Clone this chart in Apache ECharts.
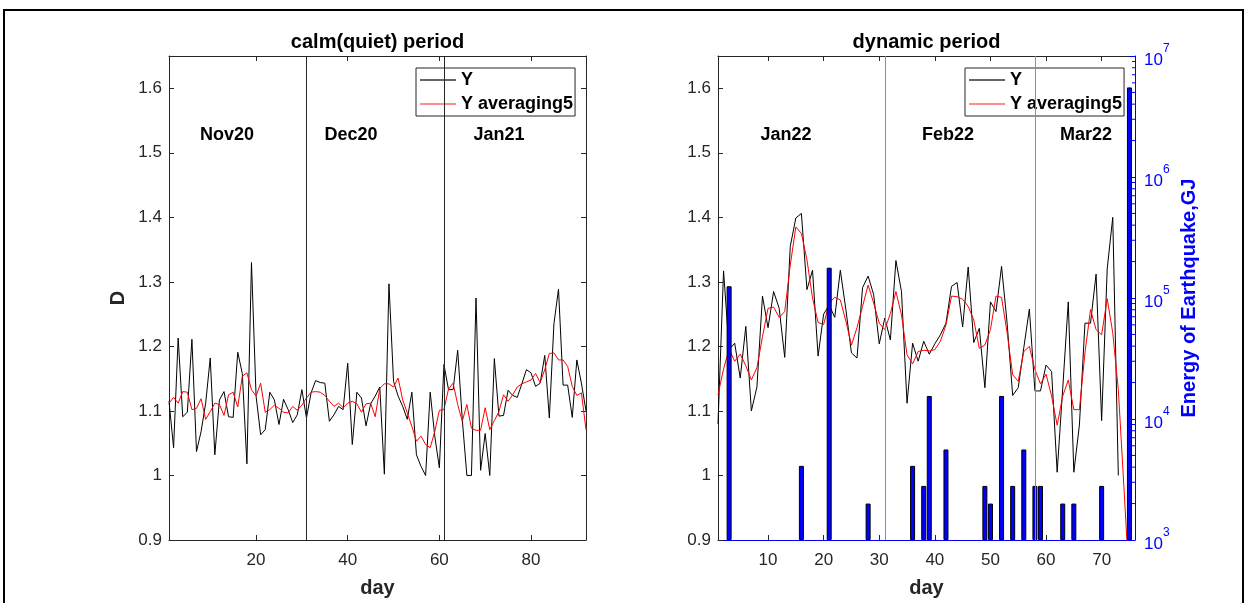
<!DOCTYPE html>
<html><head><meta charset="utf-8">
<script src="https://cdn.jsdelivr.net/npm/echarts@6/dist/echarts.min.js"></script>
<style>html,body{margin:0;padding:0;background:#fff;}#c{width:1245px;height:603px;}</style>
</head><body><div id="c"></div>
<script>
// ---- data ----
const calmY = [1.115,1.043,1.213,1.091,1.098,1.211,1.037,1.068,1.112,1.182,
  1.032,1.117,1.130,1.091,1.090,1.191,1.158,1.018,1.330,1.123,
  1.063,1.071,1.129,1.117,1.079,1.118,1.102,1.082,1.094,1.133,
  1.089,1.128,1.147,1.144,1.143,1.084,1.094,1.107,1.102,1.174,
  1.048,1.129,1.120,1.077,1.111,1.123,1.137,1.002,1.297,1.146,
  1.123,1.107,1.087,1.129,1.032,1.014,1.000,1.129,1.061,1.012,
  1.172,1.133,1.133,1.194,1.087,1.000,1.000,1.275,1.008,1.065,
  1.000,1.181,1.092,1.093,1.132,1.124,1.121,1.142,1.164,1.159,
  1.138,1.143,1.186,1.089,1.235,1.289,1.140,1.140,1.090,1.179,
  1.143,1.100];
const calmAvg = [1.112,1.121,1.112,1.130,1.129,1.102,1.104,1.119,1.087,1.099,
  1.112,1.110,1.093,1.125,1.129,1.106,1.154,1.159,1.133,1.123,
  1.143,1.098,1.102,1.109,1.104,1.098,1.097,1.107,1.101,1.109,
  1.120,1.129,1.130,1.129,1.124,1.115,1.107,1.112,1.105,1.112,
  1.115,1.111,1.098,1.111,1.112,1.091,1.135,1.142,1.142,1.137,
  1.151,1.117,1.097,1.076,1.053,1.061,1.048,1.043,1.068,1.101,
  1.102,1.134,1.143,1.110,1.084,1.110,1.073,1.070,1.070,1.105,
  1.071,1.085,1.099,1.125,1.115,1.125,1.137,1.142,1.145,1.148,
  1.158,1.144,1.164,1.189,1.190,1.179,1.179,1.169,1.138,1.124,
  1.128,1.071];
const dynY = [1.080,1.317,1.195,1.205,1.151,1.231,1.100,1.137,1.278,1.229,
  1.285,1.259,1.183,1.355,1.399,1.406,1.288,1.318,1.185,1.250,
  1.264,1.245,1.318,1.257,1.190,1.182,1.291,1.309,1.280,1.204,
  1.244,1.210,1.333,1.285,1.112,1.205,1.177,1.208,1.188,1.204,
  1.218,1.236,1.293,1.299,1.230,1.323,1.206,1.228,1.136,1.269,
  1.254,1.324,1.236,1.124,1.136,1.198,1.258,1.131,1.131,1.171,
  1.161,1.005,1.135,1.269,1.005,1.078,1.236,1.236,1.312,1.085,
  1.320,1.400,1.000];
const dynAvg = [1.125,1.165,1.196,1.177,1.188,1.170,1.148,1.167,1.215,1.259,
  1.261,1.245,1.254,1.326,1.385,1.375,1.334,1.275,1.237,1.234,
  1.267,1.276,1.272,1.239,1.202,1.229,1.262,1.295,1.267,1.236,
  1.226,1.251,1.285,1.249,1.187,1.173,1.192,1.194,1.193,1.195,
  1.208,1.233,1.278,1.277,1.273,1.262,1.241,1.197,1.202,1.226,
  1.278,1.276,1.221,1.156,1.146,1.192,1.200,1.164,1.142,1.157,
  1.123,1.078,1.123,1.148,1.102,1.102,1.190,1.257,1.226,1.218,
  1.274,1.221,1.133,0.983,0.830];
const quakeDays   = [3, 16, 21, 28, 36, 38, 39, 42, 49, 50, 52, 54, 56, 58, 59, 63, 65, 70, 75];
const quakeEnergy = [125000, 4100, 178000, 2000, 4100, 2800, 15500, 5600, 2800, 2000,
  15500, 2800, 5600, 2800, 2800, 2000, 2000, 2800, 5500000];
const calmXTicks = [20, 40, 60, 80];
const dynXTicks = [10, 20, 30, 40, 50, 60, 70];
const dTicks = [0.9, 1, 1.1, 1.2, 1.3, 1.4, 1.5, 1.6];
const energyMinorTicks = [2000,3000,4000,5000,6000,7000,8000,9000,
  20000,30000,40000,50000,60000,70000,80000,90000,
  200000,300000,400000,500000,600000,700000,800000,900000,
  2000000,3000000,4000000,5000000,6000000,7000000,8000000,9000000];
const calmMonthLines = [31, 61];
const dynMonthLines = [31, 58];
const calmMonths = ['Nov20', 'Dec20', 'Jan21'];
const dynMonths = ['Jan22', 'Feb22', 'Mar22'];
const calmXMax = 92, dynXMax = 76;

// ---- chart ----
const FONT = '"Liberation Sans", Arial, Helvetica, sans-serif';
const AX = '#262626';
const BLUE = '#0000ff';
const toPairs = arr => arr.map((v, i) => [i + 1, v]);

function xAxisBottom(gridIndex, max, ticks, lineColor) {
  return {
    type: 'value', gridIndex, position: 'bottom', min: 1, max,
    axisLine: {show: true, onZero: false, lineStyle: {color: lineColor, width: 1}},
    axisTick: {show: true, inside: true, length: 5, customValues: ticks, lineStyle: {color: AX}},
    axisLabel: {show: true, customValues: ticks, margin: 12, color: AX, fontSize: 17, fontFamily: FONT},
    splitLine: {show: false},
    name: 'day', nameLocation: 'middle', nameGap: 38,
    nameTextStyle: {fontWeight: 'bold', fontSize: 20, color: AX, fontFamily: FONT}
  };
}
function xAxisTop(gridIndex, max, ticks) {
  return {
    type: 'value', gridIndex, position: 'top', min: 1, max,
    axisLine: {show: true, onZero: false, lineStyle: {color: AX, width: 1}},
    axisTick: {show: true, inside: true, length: 5, customValues: ticks, lineStyle: {color: AX}},
    axisLabel: {show: false}, splitLine: {show: false}
  };
}
function yAxisD(gridIndex, position, withLabels, name) {
  const a = {
    type: 'value', gridIndex, position, min: 0.9, max: 1.65,
    axisLine: {show: true, onZero: false, lineStyle: {color: AX, width: 1}},
    axisTick: {show: true, inside: true, length: 5, customValues: dTicks, lineStyle: {color: AX}},
    axisLabel: {show: withLabels, customValues: dTicks, margin: 7, color: AX, fontSize: 17, fontFamily: FONT},
    splitLine: {show: false}
  };
  if (name) {
    a.name = name; a.nameLocation = 'middle'; a.nameGap = 41; a.nameRotate = 90;
    a.nameTextStyle = {fontWeight: 'bold', fontSize: 20, color: AX, fontFamily: FONT};
  }
  return a;
}
function vLines(days, color) {
  return {
    silent: true, symbol: ['none', 'none'], label: {show: false},
    lineStyle: {color, width: 1, type: 'solid'},
    data: days.map(d => ({xAxis: d}))
  };
}
function legendAt(left) {
  return {
    data: ['Y', 'Y averaging5'], orient: 'vertical', left, top: 68,
    icon: 'rect', itemWidth: 36, itemHeight: 1.5, itemGap: 6, padding: [3, 2, 3, 4],
    borderColor: AX, borderWidth: 1, selectedMode: false,
    textStyle: {fontWeight: 'bold', fontSize: 18, color: '#000', fontFamily: FONT, lineHeight: 18}
  };
}
function txt(text, x, y, size) {
  return {type: 'text', x, y, silent: true, z: 10,
    style: {text, font: 'bold ' + size + 'px ' + FONT, fill: '#000', align: 'center', verticalAlign: 'middle'}};
}

const chart = echarts.init(document.getElementById('c'));
chart.setOption({
  animation: false,
  backgroundColor: '#fff',
  textStyle: {fontFamily: FONT},
  grid: [
    {left: 169, top: 56, width: 417, height: 484},
    {left: 718, top: 56, width: 417, height: 484}
  ],
  xAxis: [
    xAxisBottom(0, calmXMax, calmXTicks, AX),
    xAxisTop(0, calmXMax, calmXTicks),
    xAxisBottom(1, dynXMax, dynXTicks, BLUE),
    xAxisTop(1, dynXMax, dynXTicks)
  ],
  yAxis: [
    yAxisD(0, 'left', true, 'D'),
    yAxisD(0, 'right', false, null),
    yAxisD(1, 'left', true, null),
    {
      type: 'log', gridIndex: 1, position: 'right', logBase: 10, min: 1000, max: 10000000, splitNumber: 4,
      startValue: 1000,
      axisLine: {show: true, onZero: false, lineStyle: {color: BLUE, width: 1}},
      axisTick: {show: true, inside: true, length: 6, lineStyle: {color: BLUE}},
      axisLabel: {
        margin: 9, color: BLUE,
        formatter: v => '{b|10}{s|' + Math.round(Math.log10(v)) + '}',
        rich: {
          b: {fontSize: 17, color: BLUE, fontFamily: FONT, lineHeight: 26, verticalAlign: 'bottom'},
          s: {fontSize: 12, color: BLUE, fontFamily: FONT, lineHeight: 14, verticalAlign: 'top'}
        }
      },
      splitLine: {show: false},
      name: 'Energy of Earthquake,GJ', nameLocation: 'middle', nameGap: 44, nameRotate: 90,
      nameTextStyle: {fontWeight: 'bold', fontSize: 20, color: BLUE, fontFamily: FONT}
    }
  ],
  legend: [legendAt(416), legendAt(965)],
  graphic: [
    {type: 'rect', silent: true, z: 20, shape: {x: 4, y: 10, width: 1239, height: 600},
      style: {fill: 'none', stroke: '#000', lineWidth: 2}},
    txt('calm(quiet) period', 377.5, 42, 20),
    txt('dynamic period', 926.5, 42, 20),
    txt(calmMonths[0], 227, 135, 18),
    txt(calmMonths[1], 351, 135, 18),
    txt(calmMonths[2], 499, 135, 18),
    txt(dynMonths[0], 786, 135, 18),
    txt(dynMonths[1], 948, 135, 18),
    txt(dynMonths[2], 1086, 135, 18)
  ],
  series: [
    {name: 'Y', type: 'line', xAxisIndex: 0, yAxisIndex: 0, data: toPairs(calmY),
      symbol: 'none', lineStyle: {color: '#000', width: 1}, itemStyle: {color: '#333'}, z: 2,
      markLine: vLines(calmMonthLines, AX)},
    {name: 'Y averaging5', type: 'line', xAxisIndex: 0, yAxisIndex: 0, data: toPairs(calmAvg),
      symbol: 'none', lineStyle: {color: '#ff0000', width: 1}, itemStyle: {color: '#ff6666'}, z: 3},
    {name: 'Y', type: 'line', xAxisIndex: 2, yAxisIndex: 2, data: toPairs(dynY),
      symbol: 'none', lineStyle: {color: '#000', width: 1}, itemStyle: {color: '#333'}, z: 2,
      markLine: vLines(dynMonthLines, '#8c8c8c')},
    {name: 'Y averaging5', type: 'line', xAxisIndex: 2, yAxisIndex: 2, data: toPairs(dynAvg),
      symbol: 'none', lineStyle: {color: '#ff0000', width: 1}, itemStyle: {color: '#ff6666'}, z: 3},
    {name: 'Energy', type: 'bar', xAxisIndex: 2, yAxisIndex: 3,
      data: quakeDays.map((d, i) => [d, quakeEnergy[i]]),
      barWidth: 5, clip: true, z: 4,
      itemStyle: {color: BLUE, borderColor: '#000', borderWidth: 1}},
    {name: 'minorTicks', type: 'custom', xAxisIndex: 2, yAxisIndex: 3, silent: true, z: 5,
      data: energyMinorTicks.map(v => [dynXMax, v]),
      renderItem: (params, api) => {
        const p = api.coord([api.value(0), api.value(1)]);
        return {type: 'line', shape: {x1: p[0] - 3, y1: p[1], x2: p[0], y2: p[1]},
          style: {stroke: BLUE, lineWidth: 1}};
      }}
  ]
});
</script></body></html>
